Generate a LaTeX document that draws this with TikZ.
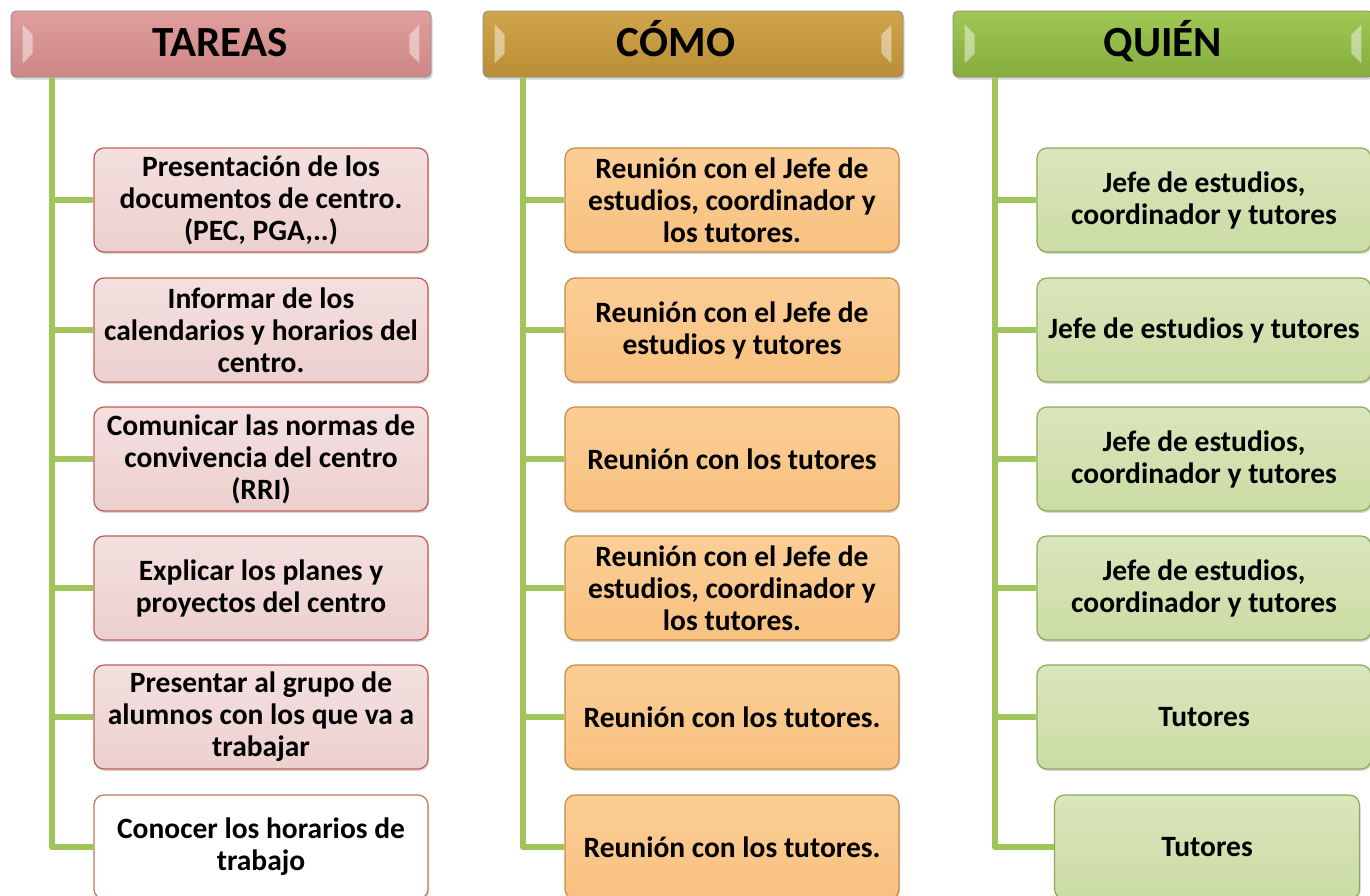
\documentclass[tikz,border=0pt]{standalone}
\usepackage{fontspec}
\setmainfont{Carlito}
\usetikzlibrary{shadows}
\definecolor{conn}{RGB}{160,197,90}
\definecolor{hA}{RGB}{224,158,157}
\definecolor{hAd}{RGB}{205,135,133}
\definecolor{hB}{RGB}{208,164,74}
\definecolor{hBd}{RGB}{185,142,54}
\definecolor{hC}{RGB}{160,200,84}
\definecolor{hCd}{RGB}{132,172,62}
\definecolor{fA}{RGB}{244,224,223}
\definecolor{fAd}{RGB}{236,208,207}
\definecolor{bA}{RGB}{190,95,85}
\definecolor{fB}{RGB}{251,206,150}
\definecolor{fBd}{RGB}{248,193,128}
\definecolor{bB}{RGB}{196,140,70}
\definecolor{fC}{RGB}{217,230,188}
\definecolor{fCd}{RGB}{203,220,164}
\definecolor{bC}{RGB}{140,170,90}
\definecolor{bW}{RGB}{190,120,85}
\tikzset{
  hdr/.style={rounded corners=5pt, minimum width=420pt, minimum height=66pt,
    inner sep=0pt, draw=black!45, line width=0.8pt,
    drop shadow={shadow xshift=1.5pt, shadow yshift=-2.5pt, opacity=0.35}},
  hdrtext/.style={font=\fontsize{43}{47}\selectfont\bfseries, inner sep=0pt, anchor=base},
  bevel/.style={fill=white, fill opacity=0.45, draw=none},
  card/.style={rounded corners=10pt, minimum width=334pt, minimum height=104pt,
    inner sep=0pt, align=center, line width=1.2pt,
    font=\fontsize{29.5}{32}\selectfont\bfseries,
    drop shadow={shadow xshift=1pt, shadow yshift=-2pt, opacity=0.3}},
  cardA/.style={card, draw=bA, top color=fA, bottom color=fAd},
  cardB/.style={card, draw=bB, top color=fB, bottom color=fBd},
  cardC/.style={card, draw=bC, top color=fC, bottom color=fCd},
  cardW/.style={card, draw=bW, fill=white},
  conn/.style={draw=conn, line width=6pt, line join=round},
}
\begin{document}
\begin{tikzpicture}[x=1pt,y=-1pt]
\useasboundingbox (0,0) rectangle (1370,895);
% headers
\node[hdr, top color=hA, bottom color=hAd] (HA) at (221,44) {};
\node[hdr, top color=hB, bottom color=hBd] (HB) at (693,44) {};
\node[hdr, top color=hC, bottom color=hCd] (HC) at (1163,44) {};
\foreach \h in {HA,HB,HC}{
  \fill[bevel] ([xshift=12pt,yshift=-14pt]\h.north west) -- ([xshift=12pt,yshift=14pt]\h.south west)
     -- ([xshift=22pt,yshift=24pt]\h.south west) -- ([xshift=22pt,yshift=-24pt]\h.north west) -- cycle;
  \fill[bevel] ([xshift=-12pt,yshift=-14pt]\h.north east) -- ([xshift=-12pt,yshift=14pt]\h.south east)
     -- ([xshift=-22pt,yshift=24pt]\h.south east) -- ([xshift=-22pt,yshift=-24pt]\h.north east) -- cycle;
}
\node[hdrtext] (tA) at (220,56) {TAREAS};
\node[hdrtext] (tB) at (676,56) {CÓMO};
\node[hdrtext] (tC) at (1163,56) {QUIÉN};
% column A
\node[cardA] (a1) at (261,200) {Presentación de los\\documentos de centro.\\(PEC, PGA,..)};
\node[cardA] (a2) at (261,330) {Informar de los\\calendarios y horarios del\\centro.};
\node[cardA] (a3) at (261,459) {Comunicar las normas de\\convivencia del centro\\(RRI)};
\node[cardA] (a4) at (261,588) {Explicar los planes y\\proyectos del centro};
\node[cardA] (a5) at (261,717) {Presentar al grupo de\\alumnos con los que va a\\trabajar};
\node[cardW] (a6) at (261,847) {Conocer los horarios de\\trabajo};
% column B
\node[cardB] (b1) at (732,200) {Reunión con el Jefe de\\estudios, coordinador y\\los tutores.};
\node[cardB] (b2) at (732,330) {Reunión con el Jefe de\\estudios y tutores};
\node[cardB] (b3) at (732,459) {Reunión con los tutores};
\node[cardB] (b4) at (732,588) {Reunión con el Jefe de\\estudios, coordinador y\\los tutores.};
\node[cardB] (b5) at (732,717) {Reunión con los tutores.};
\node[cardB] (b6) at (732,847) {Reunión con los tutores.};
% column C
\node[cardC] (c1) at (1204,200) {Jefe de estudios,\\coordinador y tutores};
\node[cardC] (c2) at (1204,330) {Jefe de estudios y tutores};
\node[cardC] (c3) at (1204,459) {Jefe de estudios,\\coordinador y tutores};
\node[cardC] (c4) at (1204,588) {Jefe de estudios,\\coordinador y tutores};
\node[cardC] (c5) at (1204,717) {Tutores};
\node[cardC, minimum width=305pt] (c6) at (1207,847) {Tutores};
% connectors
\coordinate (sA) at (52,77);
\coordinate (sB) at (523,77);
\coordinate (sC) at (995,77);
\draw[conn] (sA) |- (a6.west);
\draw[conn] (sB) |- (b6.west);
\draw[conn] (sC) |- (c6.west);
\foreach \i in {1,...,5}{
  \draw[conn] (sA |- a\i.west) -- (a\i.west);
  \draw[conn] (sB |- b\i.west) -- (b\i.west);
  \draw[conn] (sC |- c\i.west) -- (c\i.west);
}
\end{tikzpicture}
\end{document}
